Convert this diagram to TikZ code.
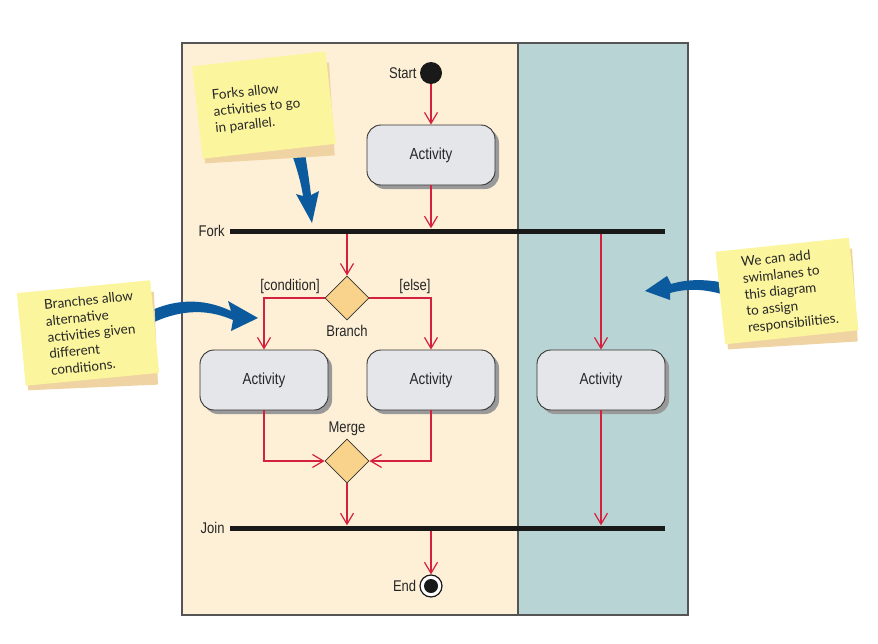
\documentclass[tikz,border=0pt]{standalone}
\usepackage{fontspec}
\setmainfont{Liberation Sans}
\newfontfamily\lab[FakeStretch=0.84]{Liberation Sans}
\newfontfamily\hand{Lato}
\usetikzlibrary{shapes.geometric,arrows.meta,shadows,calc}
\definecolor{laneA}{HTML}{FEF0D6}
\definecolor{laneB}{HTML}{B9D4D4}
\definecolor{actfill}{HTML}{E5E6EA}
\definecolor{dfill}{HTML}{F9D28C}
\definecolor{flowred}{HTML}{D6203F}
\definecolor{noteyel}{HTML}{FBF59E}
\definecolor{notesh}{HTML}{F0D3A2}
\definecolor{bluear}{HTML}{0B5A9E}
\definecolor{frameg}{HTML}{555555}
\begin{document}
\begin{tikzpicture}[x=1pt,y=-1pt,
  activity/.style={draw=black!80, line width=0.9pt, fill=actfill, rounded corners=14pt,
    minimum width=128pt, minimum height=60pt, inner sep=0pt,
    font=\lab\fontsize{16}{18}\selectfont, text=black!85,
    drop shadow={shadow xshift=4pt, shadow yshift=-4pt, fill=black!40, opacity=1}},
  flow/.style={draw=flowred, line width=1.2pt,
    -{Straight Barb[length=11pt,width=13pt,line width=1.2pt]}},
  dnode/.style={diamond, draw=black!80, fill=dfill, minimum width=44pt, minimum height=44pt,
    inner sep=0pt, line width=0.8pt},
  bar/.style={fill=black!90, minimum width=435pt, minimum height=5pt, inner sep=0pt},
  lbl/.style={font=\lab\fontsize{15.5}{18}\selectfont, text=black!85, inner sep=1pt},
  note/.style={fill=noteyel, minimum width=134pt, minimum height=93pt, inner sep=0pt},
  noteshadow/.style={fill=notesh, minimum width=130pt, minimum height=93pt, inner sep=0pt},
  handtext/.style={font=\hand\fontsize{13.5}{16.5}\selectfont, text=black!85, align=left, inner sep=0pt},
  bluefill/.style={fill=bluear}
]
\useasboundingbox (0,0) rectangle (878,643);
% swimlanes
\fill[laneA] (182,43) rectangle (518,615);
\fill[laneB] (518,43) rectangle (688,615);
\draw[frameg, line width=1.2pt] (182,43) rectangle (688,615);
\draw[frameg, line width=1.2pt] (518,43) -- (518,615);
% bars
\node[bar] (fork) at (447.5,231) {};
\node[bar] (join) at (447.5,528) {};
\node[lbl, anchor=east] (forklbl) at ([xshift=-4pt]fork.west) {Fork};
\node[lbl, anchor=east] (joinlbl) at ([xshift=-4pt]join.west) {Join};
% start
\node[circle, fill=black!90, minimum size=22pt, inner sep=0pt] (start) at (431,73) {};
\node[lbl, anchor=east] (startlbl) at ([xshift=-2pt]start.west) {Start};
% activities
\node[activity] (act1) at (431,155) {Activity};
\node[activity] (act2) at (264,380) {Activity};
\node[activity] (act3) at (431,380) {Activity};
\node[activity] (act4) at (601,380) {Activity};
% diamonds
\node[dnode] (branch) at (347,298) {};
\node[dnode] (merge) at (347,461) {};
\node[lbl] (branchlbl) at (347,331) {Branch};
\node[lbl] (mergelbl) at (347,429) {Merge};
\node[lbl] (condlbl) at (290,286) {[condition]};
\node[lbl] (elselbl) at (415,286) {[else]};
% end
\node[circle, draw=black!90, fill=white, line width=1.2pt, minimum size=22pt, inner sep=0pt] (end) at (431,586) {};
\fill[black!90] (end.center) circle (7pt);
\node[lbl, anchor=east] (endlbl) at ([xshift=-2pt]end.west) {End};
% flows
\draw[flow] (start.south) -- (act1.north);
\draw[flow] (act1.south) -- (act1.south |- fork.north);
\draw[flow] (fork.south -| branch.north) -- (branch.north);
\draw[flow] (branch.west) -| (act2.north);
\draw[flow] (branch.east) -| (act3.north);
\draw[flow] (fork.south -| act4.north) -- (act4.north);
\draw[flow] (act2.south) |- (merge.west);
\draw[flow] (act3.south) |- (merge.east);
\draw[flow] (merge.south) -- (merge.south |- join.north);
\draw[flow] (act4.south) -- (act4.south |- join.north);
\draw[flow] (join.south -| end.north) -- (end.north);
% blue tapered arrows (drawn beneath the notes)
\fill[bluefill] (287,140) .. controls (296,165) and (301,182) .. (303,196) -- (296,194)
  -- (312,223) -- (319,191) -- (311,195) .. controls (309,178) and (306,160) .. (303,140) -- cycle;
\fill[bluefill] (150,311) .. controls (180,297) and (208,300) .. (231,311) -- (228,301)
  -- (258,318) -- (231,331) -- (233,320) .. controls (210,310) and (184,308) .. (152,323) -- cycle;
\fill[bluefill] (725,283) .. controls (705,279) and (688,279) .. (671,284) -- (667,276)
  -- (645,291) -- (670,300) -- (670,293) .. controls (688,288) and (705,289) .. (725,295) -- cycle;
% notes
\node[noteshadow, rotate=3.5] (n1s) at (267,113) {};
\node[note, rotate=6.4] (n1) at (264,105) {};
\node[handtext, rotate=6] (n1t) at (257,108) {Forks allow\\activities to go\\in parallel.};
\node[noteshadow, rotate=2.5] (n2s) at (91,341) {};
\node[note, rotate=5.5] (n2) at (88,333) {};
\node[handtext, rotate=6] (n2t) at (92,333) {Branches allow\\alternative\\activities given\\different\\conditions.};
\node[noteshadow, rotate=3.5] (n3s) at (790,299) {};
\node[note, rotate=6] (n3) at (787,291) {};
\node[handtext, rotate=6] (n3t) at (790,291) {We can add\\swimlanes to\\this diagram\\to assign\\responsibilities.};
\end{tikzpicture}
\end{document}
